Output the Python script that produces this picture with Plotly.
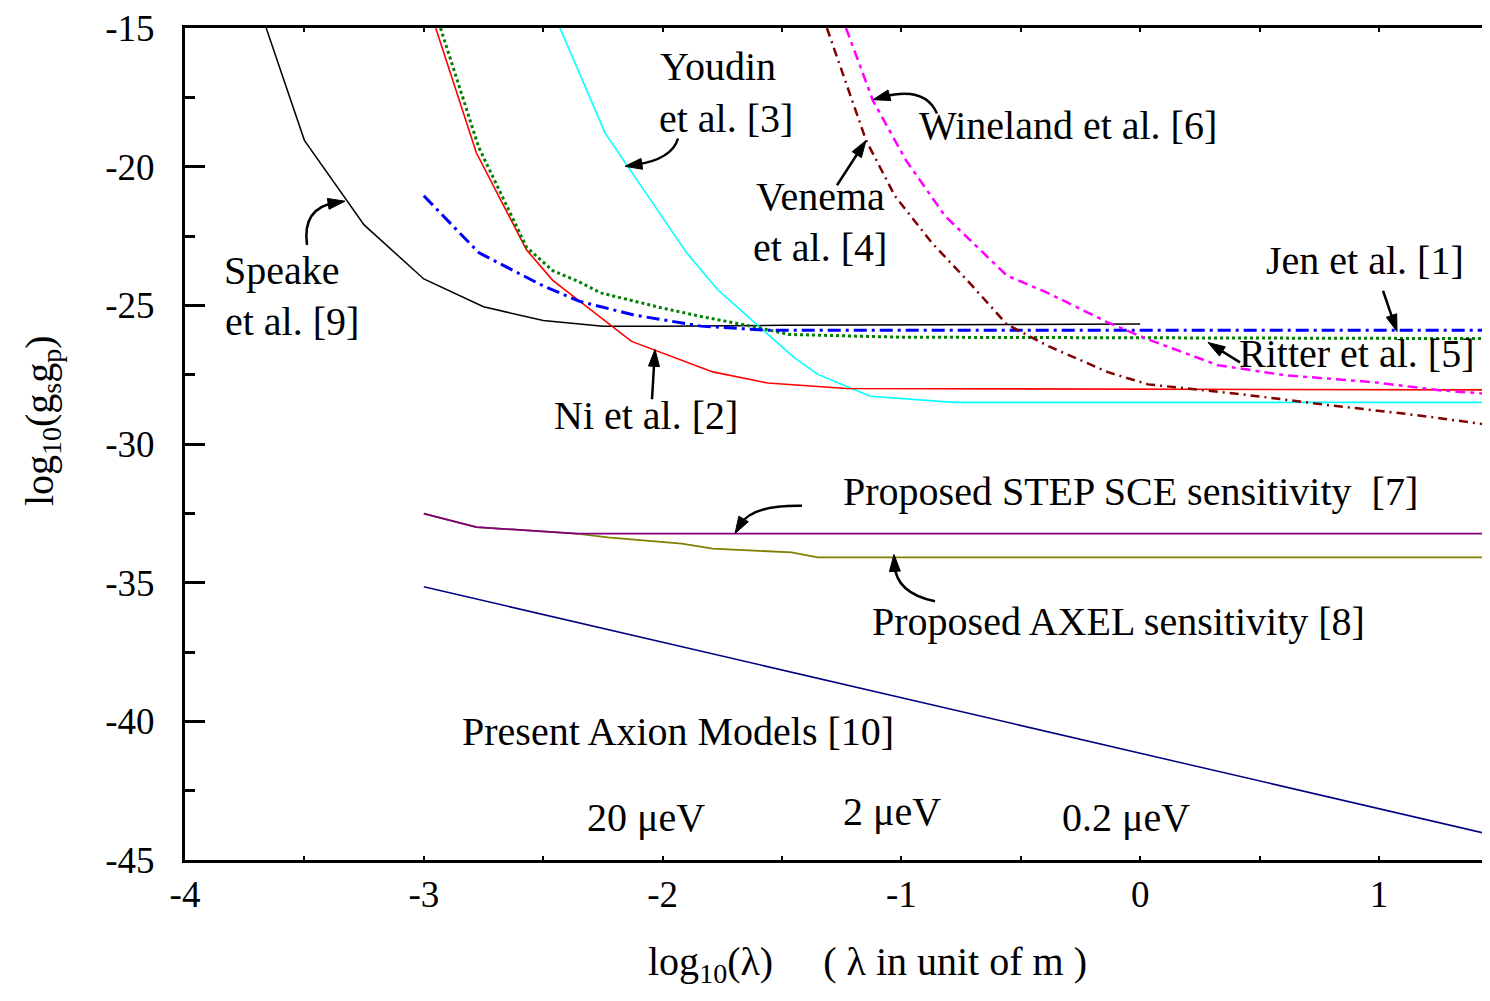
import plotly.graph_objects as go
import math

# ---------------- data ----------------
speake_x = [-3.66, -3.5, -3.25, -3.0, -2.75, -2.5, -2.25, -2.0, -1.5, -1.0, -0.5, 0.0]
speake_y = [-15.0, -19.05, -22.1, -24.05, -25.05, -25.55, -25.75, -25.75, -25.72, -25.7, -25.68, -25.67]

ni_x = [-2.95, -2.78, -2.57, -2.46, -2.13, -1.79, -1.56, -1.23, 1.5]
ni_y = [-15.0, -19.5, -23.0, -24.1, -26.3, -27.4, -27.8, -28.0, -28.05]

ritter_x = [-2.93, -2.77, -2.67, -2.57, -2.46, -2.35, -2.26, -2.0, -1.84, -1.63, -1.47, -1.0, 1.5]
ritter_y = [-15.0, -19.3, -21.1, -22.9, -23.75, -24.15, -24.55, -25.1, -25.4, -25.75, -26.05, -26.15, -26.2]

jen_x = [-3.0, -2.77, -2.5, -2.35, -2.12, -1.84, -1.56, 1.5]
jen_y = [-21.05, -23.1, -24.3, -24.85, -25.35, -25.75, -25.9, -25.9]

youdin_x = [-2.43, -2.24, -1.9, -1.77, -1.45, -1.35, -1.13, -0.78, 1.5]
youdin_y = [-15.0, -18.8, -23.1, -24.43, -26.88, -27.49, -28.28, -28.5, -28.5]

wineland_x = [-1.232, -1.119, -0.981, -0.817, -0.558, -0.39, -0.135, 0.033, 0.326, 0.606, 0.975, 1.251, 1.469]
wineland_y = [-15.0, -17.62, -19.77, -21.78, -23.93, -24.54, -25.62, -26.23, -27.16, -27.52, -27.77, -28.06, -28.2]

venema_x = [-1.312, -1.148, -1.027, -0.872, -0.704, -0.558, -0.39, -0.135, 0.033, 0.418, 0.791, 1.159, 1.469]
venema_y = [-15.0, -19.05, -21.06, -22.75, -24.29, -25.69, -26.45, -27.41, -27.85, -28.2, -28.6, -28.96, -29.32]

step_x = [-3.0, -2.78, -2.36, 1.5]
step_y = [-32.51, -33.0, -33.23, -33.23]

axel_x = [-3.0, -2.78, -2.36, -2.23, -1.92, -1.79, -1.46, -1.35, 1.5]
axel_y = [-32.51, -33.0, -33.23, -33.37, -33.59, -33.77, -33.91, -34.09, -34.09]

axion_x = [-3.0, 1.5]
axion_y = [-35.15, -44.15]

x_ticks = [-4, -3, -2, -1, 0, 1]
x_ticktext = ["-4", "-3", "-2", "-1", "0", "1"]
y_ticks = [-15, -20, -25, -30, -35, -40, -45]
y_ticktext = ["-15", "-20", "-25", "-30", "-35", "-40", "-45"]

# ---------------- layout helpers ----------------
OFF = 8                      # page body margin of the exported html
W, H = 1490 - 2 * OFF, 1001 - 2 * OFF
L, T, R = 185 - OFF, 24 - OFF, 0
PH = 860 - 24
B = H - T - PH
PW = W - L - R
PX_PER_X = 238.8
XMIN = -4.0
XMAX = XMIN + PW / PX_PER_X
YMIN, YMAX = -45.0, -15.0
PLOT_L, PLOT_T = L + OFF, T + OFF  # plot-area corner in page pixels


def dx(px):
    return XMIN + (px - PLOT_L) / PW * (XMAX - XMIN)


def dy(py):
    return YMAX - (py - PLOT_T) / PH * (YMAX - YMIN)


FONT = "Liberation Serif, Times New Roman, serif"

fig = go.Figure()


def add_line(x, y, color, width, dash="solid"):
    fig.add_trace(go.Scatter(x=x, y=y, mode="lines",
                             line=dict(color=color, width=width, dash=dash),
                             showlegend=False, hoverinfo="skip"))


add_line(axion_x, axion_y, "#000080", 1.5)
add_line(axel_x, axel_y, "#808000", 1.8)
add_line(step_x, step_y, "#800080", 1.8)
add_line(speake_x, speake_y, "#000000", 1.5)
add_line(youdin_x, youdin_y, "#00FFFF", 1.6)
add_line(ni_x, ni_y, "#FF0000", 1.6)
add_line(ritter_x, ritter_y, "#008000", 3, "3px,3px")
add_line(jen_x, jen_y, "#0000FF", 3, "13px,5px,3px,5px")
add_line(venema_x, venema_y, "#800000", 2.5, "9px,5px,2px,5px")
add_line(wineland_x, wineland_y, "#FF00FF", 2.5, "10px,5px,4px,5px")

annotations = []


def label(text, cx, cy, size=40):
    annotations.append(dict(x=dx(cx), y=dy(cy), xref="x", yref="y", text=text,
                            showarrow=False, xanchor="center", yanchor="middle",
                            font=dict(family=FONT, size=size, color="black")))


label("Youdin", 718, 63)
label("et al. [3]", 726, 115)
label("Wineland et al. [6]", 1068, 122)
label("Venema", 820, 193)
label("et al. [4]", 820, 245)
label("Speake", 282, 268)
label("et al. [9]", 292, 319)
label("Jen et al. [1]", 1365, 258)
label("Ritter et al. [5]", 1356, 351)
label("Ni et al. [2]", 646, 413)
label("Proposed STEP SCE sensitivity  [7]", 1130, 490)
label("Proposed AXEL sensitivity [8]", 1118, 620)
label("Present Axion Models [10]", 678, 731)
label("20 μeV", 646, 817)
label("2 μeV", 892, 811)
label("0.2 μeV", 1126, 817)


def arrow(tail, head, ctrl=None, head_len=17, head_half=5.5):
    tx, ty = tail
    hx, hy = head
    px, py = ctrl if ctrl is not None else tail
    vx, vy = hx - px, hy - py
    n = math.hypot(vx, vy)
    ux, uy = vx / n, vy / n
    bx, by = hx - ux * head_len, hy - uy * head_len
    ex, ey = hx - ux * head_len * 0.6, hy - uy * head_len * 0.6
    if ctrl is not None:
        path = f"M {dx(tx)},{dy(ty)} Q {dx(px)},{dy(py)} {dx(ex)},{dy(ey)}"
    else:
        path = f"M {dx(tx)},{dy(ty)} L {dx(ex)},{dy(ey)}"
    fig.add_shape(type="path", path=path, xref="x", yref="y",
                  line=dict(color="black", width=2.5))
    nx, ny = -uy, ux
    p1 = (bx + nx * head_half, by + ny * head_half)
    p2 = (bx - nx * head_half, by - ny * head_half)
    tri = (f"M {dx(hx)},{dy(hy)} L {dx(p1[0])},{dy(p1[1])} "
           f"L {dx(p2[0])},{dy(p2[1])} Z")
    fig.add_shape(type="path", path=tri, xref="x", yref="y",
                  line=dict(color="black", width=1), fillcolor="black")


arrow((307, 242), (345, 198), ctrl=(302, 205))      # Speake
arrow((678, 135), (625, 163), ctrl=(672, 156))      # Youdin
arrow((937, 110), (873, 96), ctrl=(925, 82))        # Wineland
arrow((837, 182), (866, 137))                      # Venema
arrow((1383, 288), (1397, 329))                    # Jen
arrow((1240, 360), (1208, 340))                    # Ritter
arrow((652, 397), (655, 347))                      # Ni
arrow((802, 504), (735, 532), ctrl=(752, 503))      # STEP
arrow((935, 600), (894, 553), ctrl=(896, 592))      # AXEL

# axis titles
annotations.append(dict(x=(42 - PLOT_L) / PW, y=(PLOT_T + PH - 419) / PH,
                        xref="paper", yref="paper",
                        text="log<sub>10</sub>(g<sub>s</sub>g<sub>p</sub>)", textangle=-90,
                        showarrow=False, xanchor="center", yanchor="middle",
                        font=dict(family=FONT, size=40, color="black")))
annotations.append(dict(x=(867 - PLOT_L) / PW, y=(PLOT_T + PH - 965) / PH,
                        xref="paper", yref="paper",
                        text="log<sub>10</sub>(λ)     ( λ in unit of m )",
                        showarrow=False, xanchor="center", yanchor="middle",
                        font=dict(family=FONT, size=40, color="black")))

fig.update_layout(
    width=W, height=H,
    margin=dict(l=L, r=R, t=T, b=B, pad=0),
    paper_bgcolor="white", plot_bgcolor="white",
    showlegend=False,
    annotations=annotations,
    xaxis=dict(range=[XMIN, XMAX], showgrid=False, zeroline=False,
               showline=True, linecolor="black", linewidth=3, mirror="allticks",
               ticks="inside", ticklen=4, tickwidth=1.5, tickcolor="black",
               tickvals=x_ticks, ticktext=x_ticktext,
               tickfont=dict(family=FONT, size=37, color="black"),
               ticklabelstandoff=0, ticklabeloverflow="allow",
               minor=dict(dtick=0.5, tick0=-4, ticks="inside", ticklen=4, tickwidth=1.5,
                          tickcolor="black", showgrid=False)),
    yaxis=dict(range=[YMIN, YMAX], showgrid=False, zeroline=False,
               showline=True, linecolor="black", linewidth=3, mirror=False,
               ticks="inside", ticklen=20, tickwidth=3, tickcolor="black",
               tickvals=y_ticks, ticktext=y_ticktext,
               tickfont=dict(family=FONT, size=37, color="black"),
               ticklabelstandoff=20, ticklabeloverflow="allow",
               minor=dict(dtick=2.5, tick0=-45, ticks="inside", ticklen=10, tickwidth=3,
                          tickcolor="black", showgrid=False)),
)

fig.write_html("out.html")
